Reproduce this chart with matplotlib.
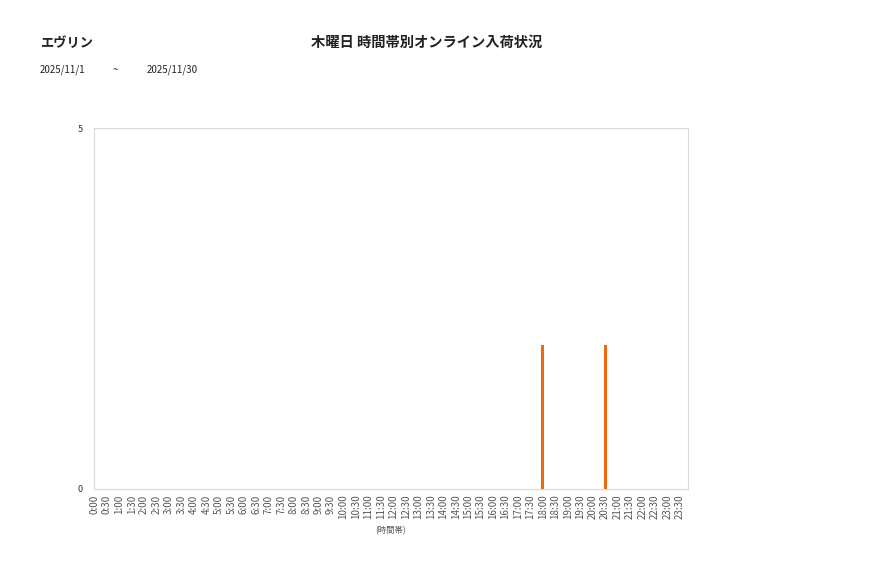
import matplotlib
matplotlib.use("Agg")
import matplotlib.pyplot as plt

plt.rcParams['font.family'] = ['Noto Sans CJK JP', 'DejaVu Sans']

slots = [f"{h}:{m:02d}" for h in range(24) for m in (0, 30)]
values = [0] * 48
bar_labels = ["18:00", "20:30"]
bar_values = [2, 2]
for lab, v in zip(bar_labels, bar_values):
    values[slots.index(lab)] = v

title = "木曜日 時間帯別オンライン入荷状況"
store = "エヴリン"
date_from = "2025/11/1"
date_to = "2025/11/30"

W, H = 877, 578
fig = plt.figure(figsize=(W / 100, H / 100), dpi=100)
ax = fig.add_axes([94 / W, 1 - 489 / H, (688 - 94) / W, (489 - 128) / H])

x = list(range(len(slots)))
ax.bar(x, values, width=0.24, color="#f0690f", zorder=3)
ax.set_xlim(-0.02, 47.65)
ax.set_ylim(0, 5)
ax.set_yticks([0, 5])
ax.set_yticklabels(["0", "5"], fontsize=6.5, color="#333333")
ax.set_xticks(x)
ax.set_xticklabels(slots, rotation=90, fontsize=7, color="#555555")
ax.tick_params(axis="both", length=0, pad=4)
ax.tick_params(axis="y", pad=8)
for s in ax.spines.values():
    s.set_color("#d9d9d9")
    s.set_linewidth(0.8)
ax.set_xlabel("(時間帯)", fontsize=6, color="#555555", labelpad=5)

fig.text(427 / W, 1 - 43 / H, title, ha="center", va="center", fontsize=10.3, fontweight="bold", color="#222222")
fig.text(40 / W, 1 - 43 / H, store, ha="left", va="center", fontsize=9.5, fontweight="bold", color="#222222")
fig.text(40 / W, 1 - 70 / H, date_from, ha="left", va="center", fontsize=7, color="#222222")
fig.text(113 / W, 1 - 70 / H, "~", ha="left", va="center", fontsize=7, color="#222222")
fig.text(147 / W, 1 - 70 / H, date_to, ha="left", va="center", fontsize=7, color="#222222")

fig.savefig("out.png", dpi=100, facecolor="white")
